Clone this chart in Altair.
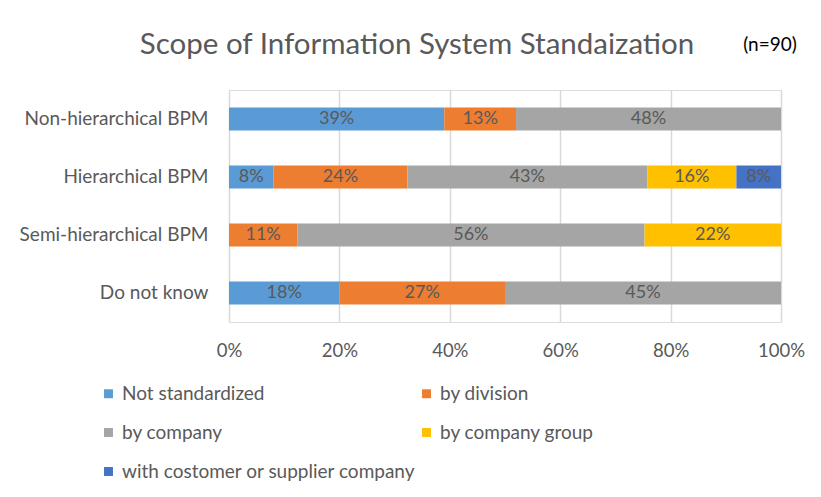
import altair as alt
import pandas as pd

categories = ["Non-hierarchical BPM", "Hierarchical BPM", "Semi-hierarchical BPM", "Do not know"]
series = ["Not standardized", "by division", "by company", "by company group",
          "with costomer or supplier company"]
colors = ["#5B9BD5", "#ED7D31", "#A5A5A5", "#FFC000", "#4472C4"]
# legend is filled column by column: this order gives the reference's row-wise layout
legend_order = [0, 2, 4, 1, 3]

not_standardized = [39, 8, None, 18]
by_division = [13, 24, 11, 27]
by_company = [48, 43, 56, 45]
by_company_group = [None, 16, 22, None]
with_partner = [None, 8, None, None]
tick_values = [0, 0.2, 0.4, 0.6, 0.8, 1.0]

title_text = ["Scope of Information System Standaization"]
note_text = ["(n=90)"]

FONT = "Lato"
GRAY = "#595959"

rows = []
for si, (s, vals) in enumerate(zip(series, [not_standardized, by_division, by_company,
                                           by_company_group, with_partner])):
    for c, v in zip(categories, vals):
        if v is not None:
            rows.append({"category": c, "series": s, "order": si, "value": v, "label": f"{v}%"})
df = pd.DataFrame(rows)

y_enc = alt.Y("category:N", sort=categories,
              scale=alt.Scale(paddingInner=0.6, paddingOuter=0.3),
              axis=alt.Axis(title=None, labelFontSize=19, labelColor=GRAY, labelFont=FONT,
                            labelPadding=21, labelLimit=400, ticks=False, domain=False))

base = alt.Chart(df).transform_stack(
    stack="value", groupby=["category"], as_=["x0", "x1"], offset="normalize",
    sort=[alt.SortField("order", order="ascending")]
).transform_calculate(mid="(datum.x0 + datum.x1) / 2")

bars = base.mark_bar().encode(
    x=alt.X("x0:Q", scale=alt.Scale(domain=[0, 1], nice=False),
            axis=alt.Axis(format="%", values=tick_values, grid=True, gridColor="#D9D9D9",
                          gridWidth=1.5, domain=False, ticks=False, labelFontSize=18.5,
                          labelColor=GRAY, labelFont=FONT, labelPadding=19, labelFlush=False,
                          title=None)),
    x2="x1:Q",
    y=y_enc,
    color=alt.Color("series:N",
                    scale=alt.Scale(domain=[series[i] for i in legend_order],
                                    range=[colors[i] for i in legend_order]),
                    legend=alt.Legend(title=None, orient="none", legendX=-130, legendY=294,
                                      columns=2, symbolType="square", symbolSize=80,
                                      symbolStrokeWidth=0, labelFontSize=19, labelColor=GRAY,
                                      labelFont=FONT, rowPadding=19, columnPadding=1,
                                      labelOffset=4, labelLimit=400)),
    order=alt.Order("order:Q"),
)

labels = base.mark_text(fontSize=18, color=GRAY, font=FONT).encode(
    x=alt.X("mid:Q"),
    y=alt.Y("category:N", sort=categories),
    text="label:N",
)

title = alt.Chart(pd.DataFrame({"t": title_text})).mark_text(
    fontSize=29.5, color=GRAY, font=FONT
).encode(x=alt.value(188), y=alt.value(-45), text="t:N")

note = alt.Chart(pd.DataFrame({"t": note_text})).mark_text(
    fontSize=19, color="black", font=FONT
).encode(x=alt.value(541), y=alt.value(-45), text="t:N")

chart = alt.layer(bars, labels, title, note).properties(
    width=552, height=232,
    padding={"left": 221, "top": 82, "right": 32, "bottom": 167},
    autosize="none",
).configure_view(stroke=None).configure(background="white")

chart.save("out.html", embed_options={"renderer": "svg", "actions": False})
